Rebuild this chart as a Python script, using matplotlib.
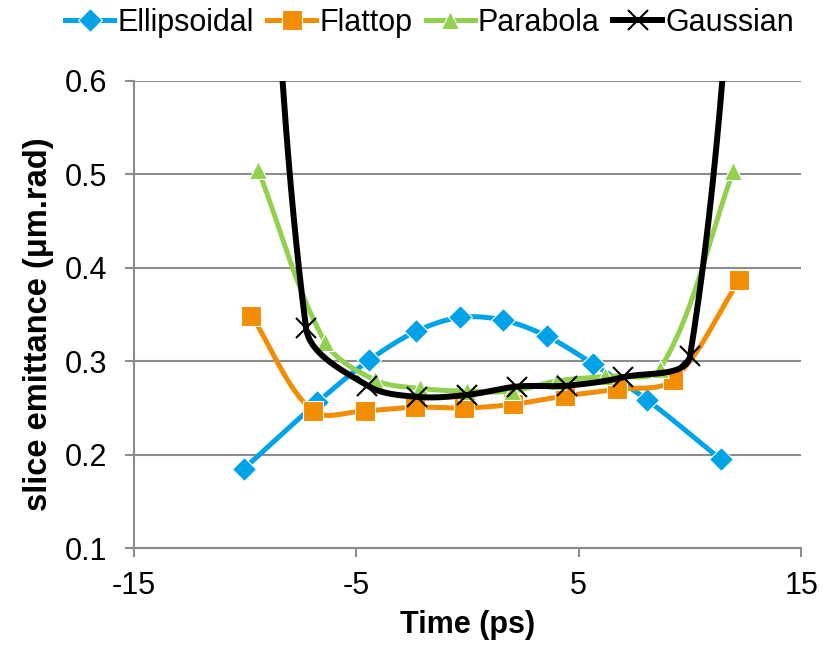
import numpy as np
import matplotlib.pyplot as plt
from matplotlib.lines import Line2D

plt.rcParams['font.family'] = ['Liberation Sans', 'DejaVu Sans']
plt.rcParams['axes.unicode_minus'] = False

# data
ell_t = [-10.05, -6.75, -4.43, -2.31, -0.33, 1.61, 3.56, 5.66, 8.06, 11.39]
ell_e = [0.185, 0.256, 0.301, 0.332, 0.347, 0.344, 0.327, 0.297, 0.259, 0.195]

flat_t = [-9.71, -6.96, -4.61, -2.36, -0.15, 2.06, 4.39, 6.71, 9.23, 12.23]
flat_e = [0.349, 0.247, 0.247, 0.251, 0.250, 0.254, 0.263, 0.270, 0.280, 0.387]

par_t = [-9.41, -6.41, -4.16, -2.13, -0.03, 1.99, 4.01, 6.19, 8.66, 11.96]
par_e = [0.505, 0.321, 0.280, 0.271, 0.268, 0.268, 0.279, 0.284, 0.292, 0.504]

# outer gaussian points are off the top of the chart
gau_t = [-9.70, -7.26, -4.50, -2.28, -0.03, 2.22, 4.47, 7.01, 10.01, 13.20]
gau_e = [1.25, 0.336, 0.274, 0.262, 0.264, 0.273, 0.274, 0.283, 0.306, 1.20]

names = ['Ellipsoidal', 'Flattop', 'Parabola', 'Gaussian']
colors = ['#00A2E8', '#F28C00', '#92D050', '#000000']
markers = ['D', 's', '^', 'x']
msizes = [12.5, 14, 13, 15]
series = [(ell_t, ell_e), (flat_t, flat_e), (par_t, par_e), (gau_t, gau_e)]

# pixels per data unit, used so the smoothing works on screen distances
PX, PY = 22.23, 934.0


def smooth(x, y, n=60):
    # bezier smoothing in the style of the spreadsheet "smoothed line"
    p = np.column_stack([x, y])
    s = np.array([PX, PY])
    out = [p[0]]
    t = np.linspace(0, 1, n)[1:, None]
    for i in range(len(p) - 1):
        a = p[i - 1] if i > 0 else p[i]
        b, c = p[i], p[i + 1]
        d = p[i + 2] if i + 2 < len(p) else p[i + 1]
        dab = np.linalg.norm((b - a) * s)
        dbc = np.linalg.norm((c - b) * s)
        dcd = np.linalg.norm((d - c) * s)
        c1 = b + (c - a) * dbc / (3 * (dab + dbc))
        c2 = c - (d - b) * dbc / (3 * (dbc + dcd))
        seg = (1 - t)**3 * b + 3 * (1 - t)**2 * t * c1 + 3 * (1 - t) * t**2 * c2 + t**3 * c
        out.extend(seg)
    out = np.array(out)
    return out[:, 0], out[:, 1]


fig = plt.figure(figsize=(8.31, 6.48), dpi=100)
ax = fig.add_axes([0.161, 0.154, 0.803, 0.721])

handles = []
for (xs, ys), name, c, m, ms in zip(series, names, colors, markers, msizes):
    sx, sy = smooth(xs, ys)
    lw = 4.3 if name == 'Gaussian' else 3.6
    ax.plot(sx, sy, color=c, lw=lw, solid_capstyle='round')
    if m == 'x':
        style = dict(marker=m, ms=ms, mec=c, mew=1.5)
    else:
        style = dict(marker=m, ms=ms, mfc=c, mec='white', mew=0.8)
    ax.plot(xs, ys, ls='none', **style)
    handles.append(Line2D([], [], color=c, lw=lw, **style))

ax.set_xlim(-15, 15)
ax.set_ylim(0.1, 0.6)
ax.set_xticks([-15, -5, 5, 15])
ax.set_yticks([0.1, 0.2, 0.3, 0.4, 0.5, 0.6])
ax.set_yticklabels(['0.1', '0.2', '0.3', '0.4', '0.5', '0.6'])
ax.grid(axis='y', color='#8c8c8c', lw=1.5)
ax.set_axisbelow(True)
for s in ['top', 'right']:
    ax.spines[s].set_visible(False)
for s in ['left', 'bottom']:
    ax.spines[s].set_color('#8c8c8c')
    ax.spines[s].set_linewidth(1.5)
ax.tick_params(axis='both', labelsize=22, color='#8c8c8c', width=1.5, length=6.5)
ax.tick_params(axis='y', pad=12.5)
ax.tick_params(axis='x', pad=10)

ax.set_xlabel('Time (ps)', fontsize=22, fontweight='bold')
ax.xaxis.set_label_coords(0.5, -0.133)
ax.set_ylabel('slice emittance (μm.rad)', fontsize=23.5, fontweight='bold')
ax.yaxis.set_label_coords(-0.12, 0.48)

fig.legend(handles, names, loc='upper center', bbox_to_anchor=(0.517, 1.03), ncol=4,
           frameon=False, fontsize=22, handlelength=1.6, handletextpad=0.1,
           columnspacing=0.45)

fig.savefig('out.png', dpi=100)
